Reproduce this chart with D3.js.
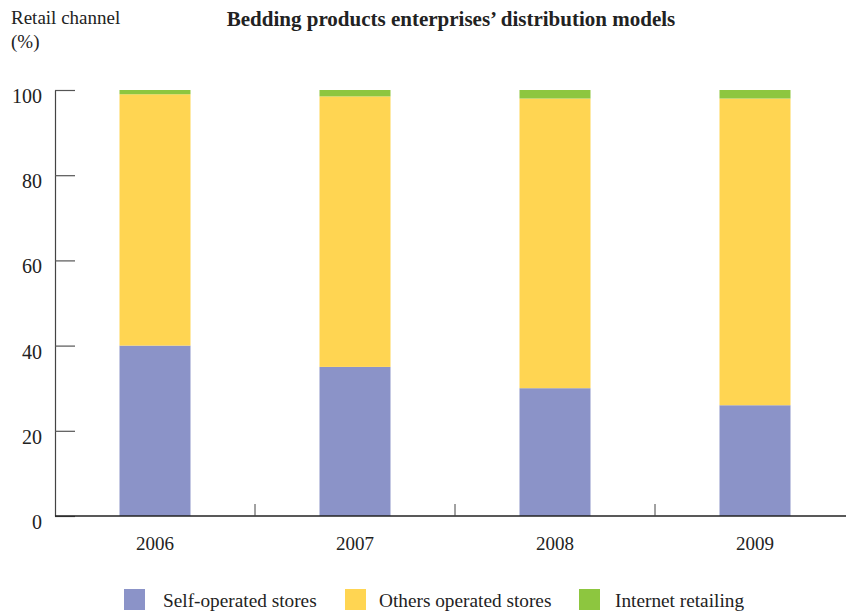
<!DOCTYPE html>
<html>
<head>
<meta charset="utf-8">
<script src="https://cdn.jsdelivr.net/npm/d3@7"></script>
<style>
  body { margin: 0; background: #fff; }
  svg { display: block; font-family: "Liberation Serif", "Times New Roman", serif; }
</style>
</head>
<body>
<svg id="chart" width="846" height="612"></svg>
<script>
// Share of each retail channel per year (%)
const years = ["2006", "2007", "2008", "2009"];
const selfOperated = [40, 35, 30, 26];
const othersOperated = [59, 63.5, 68, 72];
const internetRetailing = [1, 1.5, 2, 2];
const seriesNames = ["Self-operated stores", "Others operated stores", "Internet retailing"];
const seriesColors = ["#8b93c8", "#ffd552", "#8dc63f"];
const yTicks = [0, 20, 40, 60, 80, 100];

const rows = years.map((y, i) => ({
  year: y,
  s0: selfOperated[i],
  s1: othersOperated[i],
  s2: internetRetailing[i]
}));
const stack = d3.stack().keys(["s0", "s1", "s2"])(rows);

const svg = d3.select("#chart");
const x0 = 55, xEnd = 846;
const x = d3.scaleBand().domain(years).range([55, 855]).padding(0);
const y = d3.scaleLinear().domain([0, 100]).range([516, 90]);
const barW = 71;

// Stacked bars
svg.append("g").selectAll("g").data(stack).join("g")
  .attr("fill", (d, i) => seriesColors[i])
  .selectAll("rect").data(d => d).join("rect")
  .attr("x", d => x(d.data.year) + (x.bandwidth() - barW) / 2)
  .attr("width", barW)
  .attr("y", d => y(d[1]))
  .attr("height", d => y(d[0]) - y(d[1]));

// Y axis with inward ticks
const yAxis = svg.append("g")
  .attr("transform", `translate(${x0},0)`)
  .call(d3.axisLeft(y).tickValues(yTicks).tickSizeInner(-20).tickSizeOuter(0).tickPadding(13));
yAxis.select(".domain").attr("stroke", "#444").attr("stroke-width", 1.2);
yAxis.selectAll(".tick line").attr("stroke", "#555").attr("stroke-width", 1.2);
yAxis.selectAll(".tick text")
  .attr("font-size", 20).attr("fill", "#222")
  .attr("font-family", "Liberation Serif, serif")
  .attr("dy", "0.62em");

// X axis labels
const xAxis = svg.append("g")
  .attr("transform", `translate(0,${y(0)})`)
  .call(d3.axisBottom(x).tickSize(0).tickPadding(21));
xAxis.select(".domain").remove();
xAxis.selectAll(".tick text")
  .attr("font-size", 19).attr("fill", "#222")
  .attr("font-family", "Liberation Serif, serif");

// Baseline and category separators
svg.append("line")
  .attr("x1", x0).attr("x2", xEnd)
  .attr("y1", y(0)).attr("y2", y(0))
  .attr("stroke", "#222").attr("stroke-width", 1.6);
svg.append("g").selectAll("line").data(years.slice(0, -1)).join("line")
  .attr("x1", d => x(d) + x.bandwidth()).attr("x2", d => x(d) + x.bandwidth())
  .attr("y1", y(0)).attr("y2", y(0) - 12)
  .attr("stroke", "#444").attr("stroke-width", 1);

// Titles
svg.append("text").attr("x", 451).attr("y", 26)
  .attr("text-anchor", "middle").attr("font-weight", "bold")
  .attr("font-size", 21).attr("fill", "#222")
  .text("Bedding products enterprises’ distribution models");
svg.append("text").attr("x", 11).attr("y", 24)
  .attr("font-size", 19).attr("fill", "#222").text("Retail channel");
svg.append("text").attr("x", 11).attr("y", 48)
  .attr("font-size", 19).attr("fill", "#222").text("(%)");

// Legend
const legendX = [124, 345, 579];
const legendTextX = [39, 34, 36];
const legend = svg.append("g").selectAll("g").data(seriesNames).join("g")
  .attr("transform", (d, i) => `translate(${legendX[i]},589)`);
legend.append("rect").attr("width", 21).attr("height", 21)
  .attr("fill", (d, i) => seriesColors[i]);
legend.append("text").attr("x", (d, i) => legendTextX[i]).attr("y", 18)
  .attr("font-size", 19.3).attr("fill", "#222").text(d => d);
</script>
</body>
</html>
